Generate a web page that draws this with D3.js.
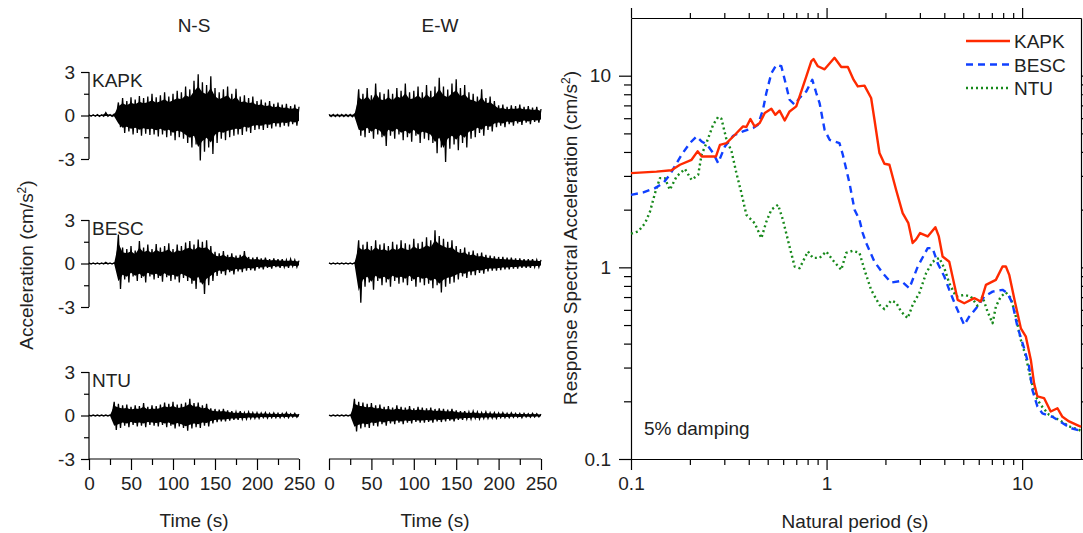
<!DOCTYPE html>
<html>
<head>
<meta charset="utf-8">
<script src="https://cdn.jsdelivr.net/npm/d3@7"></script>
<style>
  body { margin: 0; background: #fff; }
  svg { display: block; font-family: "Liberation Sans", Arial, sans-serif; }
  .axis text { font-size: 19px; fill: #222; font-family: "Liberation Sans", Arial, sans-serif; }
  .axis path, .axis line { stroke: #000; stroke-width: 1.2; }
  .lbl { font-size: 19px; fill: #222; }
</style>
</head>
<body>
<svg id="chart" width="1083" height="533"></svg>
<script>
// ---- time histories: peak envelope every 5 s (cm/s^2) ----
const traceStep = 5;
const stations = ['KAPK', 'BESC', 'NTU'];
const components = ['N-S', 'E-W'];

const kapkNsUp = [0.05,0.05,0.06,0.05,0.2,0.06,0.1,0.9,1.2,1.0,1.25,1.1,1.35,1.2,1.3,1.5,1.25,1.4,1.6,1.3,1.5,1.7,1.6,2.0,1.8,2.4,2.85,2.3,2.1,2.7,1.9,1.6,1.8,2.0,1.5,1.85,1.3,1.4,1.2,1.3,1.0,1.1,0.9,1.0,0.8,0.9,0.75,0.8,0.65,0.75,0.6];
const kapkNsLo = [-0.05,-0.05,-0.06,-0.05,-0.05,-0.06,-0.1,-0.8,-1.2,-1.1,-1.3,-1.2,-1.4,-1.25,-1.35,-1.3,-1.45,-1.3,-1.5,-1.4,-1.7,-1.5,-1.6,-1.9,-2.2,-2.0,-3.1,-2.5,-2.2,-2.65,-1.9,-1.6,-1.7,-1.5,-1.4,-1.3,-1.35,-1.1,-1.2,-1.0,-0.95,-1.0,-0.85,-0.9,-0.75,-0.8,-0.7,-0.75,-0.6,-0.7,-0.55];
const kapkEwUp = [0.08,0.08,0.08,0.08,0.08,0.08,0.1,1.8,1.5,1.9,1.4,2.2,1.6,1.5,1.8,1.5,1.9,1.7,2.2,1.6,1.7,2.0,1.6,2.1,1.7,2.0,2.6,2.0,1.8,2.2,2.5,1.9,2.1,1.6,1.5,1.3,1.8,1.2,1.3,1.0,0.7,0.75,0.6,0.7,0.65,0.75,0.6,0.65,0.55,0.6,0.45];
const kapkEwLo = [-0.08,-0.08,-0.08,-0.08,-0.08,-0.08,-0.1,-1.4,-1.5,-1.2,-1.6,-1.3,-1.5,-2.1,-1.4,-1.6,-1.3,-1.7,-1.5,-1.8,-1.4,-1.9,-1.6,-1.7,-1.9,-2.6,-2.2,-3.2,-2.3,-2.0,-2.4,-1.9,-2.2,-1.6,-1.5,-1.2,-1.4,-1.0,-1.1,-0.8,-0.7,-0.8,-0.6,-0.7,-0.55,-0.65,-0.5,-0.6,-0.45,-0.5,-0.4];
const bescNsUp = [0.04,0.04,0.04,0.04,0.08,0.04,0.05,2.0,1.1,1.0,1.2,0.9,1.55,1.1,1.3,1.0,1.35,1.1,1.2,1.4,1.0,1.3,1.2,1.45,1.55,1.3,1.65,1.5,1.6,1.2,0.8,0.7,0.85,0.6,0.7,0.55,0.6,0.85,0.45,0.4,0.45,0.35,0.4,0.3,0.35,0.3,0.3,0.25,0.3,0.25,0.2];
const bescNsLo = [-0.04,-0.04,-0.04,-0.04,-0.04,-0.04,-0.05,-1.75,-1.1,-1.3,-0.9,-1.2,-1.0,-1.3,-0.9,-1.1,-1.0,-1.25,-0.95,-1.2,-1.1,-1.3,-1.0,-1.2,-1.4,-1.75,-1.3,-2.1,-1.5,-1.2,-0.85,-0.7,-0.8,-0.6,-0.75,-0.55,-0.6,-0.5,-0.45,-0.5,-0.35,-0.4,-0.3,-0.35,-0.25,-0.3,-0.25,-0.3,-0.2,-0.25,-0.2];
const bescEwUp = [0.04,0.04,0.04,0.04,0.04,0.04,0.05,1.6,1.3,1.5,1.2,1.6,1.3,1.4,1.2,1.5,1.3,1.6,1.4,1.3,1.7,1.4,1.5,1.8,1.6,2.3,1.9,1.7,1.5,1.6,1.2,1.0,1.1,0.8,0.9,0.7,0.75,0.6,0.55,0.5,0.45,0.45,0.4,0.4,0.35,0.35,0.3,0.3,0.3,0.25,0.25];
const bescEwLo = [-0.04,-0.04,-0.04,-0.04,-0.04,-0.04,-0.05,-2.7,-1.6,-1.3,-1.8,-1.2,-1.5,-1.3,-1.6,-1.2,-1.4,-1.3,-1.5,-1.2,-1.6,-1.3,-1.5,-1.4,-1.7,-1.5,-2.0,-1.6,-1.4,-1.3,-1.1,-0.9,-1.0,-0.8,-0.8,-0.65,-0.7,-0.55,-0.5,-0.5,-0.45,-0.4,-0.4,-0.35,-0.35,-0.3,-0.3,-0.3,-0.25,-0.25,-0.2];
const ntuNsUp = [0.03,0.03,0.03,0.03,0.03,0.03,0.95,0.8,0.7,0.75,0.6,0.7,0.65,0.85,0.6,0.7,0.65,0.75,0.9,0.8,0.95,0.75,0.8,0.9,1.15,0.85,0.9,0.7,0.8,0.5,0.45,0.4,0.45,0.35,0.3,0.25,0.3,0.2,0.25,0.2,0.2,0.18,0.2,0.15,0.18,0.15,0.15,0.2,0.12,0.15,0.1];
const ntuNsLo = [-0.03,-0.03,-0.03,-0.03,-0.03,-0.03,-1.0,-0.85,-0.7,-0.8,-0.65,-0.75,-0.7,-0.8,-0.65,-0.7,-0.75,-0.65,-0.8,-0.7,-0.9,-0.75,-0.85,-1.05,-0.9,-0.8,-0.85,-0.7,-0.75,-0.55,-0.45,-0.4,-0.4,-0.35,-0.3,-0.3,-0.25,-0.25,-0.2,-0.2,-0.2,-0.15,-0.18,-0.15,-0.15,-0.15,-0.12,-0.15,-0.1,-0.12,-0.1];
const ntuEwUp = [0.03,0.03,0.03,0.03,0.03,0.03,1.15,0.95,0.9,0.8,0.85,0.7,0.75,0.6,0.65,0.55,0.7,0.6,0.55,0.65,0.5,0.6,0.55,0.5,0.55,0.45,0.5,0.45,0.4,0.45,0.35,0.3,0.3,0.25,0.3,0.25,0.2,0.25,0.2,0.2,0.18,0.2,0.15,0.18,0.15,0.15,0.15,0.12,0.15,0.12,0.1];
const ntuEwLo = [-0.03,-0.03,-0.03,-0.03,-0.03,-0.03,-1.1,-0.9,-0.8,-0.85,-0.7,-0.75,-0.6,-0.7,-0.55,-0.6,-0.5,-0.6,-0.5,-0.55,-0.45,-0.5,-0.5,-0.45,-0.5,-0.4,-0.45,-0.4,-0.35,-0.4,-0.3,-0.3,-0.25,-0.25,-0.2,-0.25,-0.2,-0.2,-0.18,-0.2,-0.15,-0.15,-0.15,-0.12,-0.12,-0.15,-0.1,-0.12,-0.1,-0.1,-0.08];

const traces = [
  [[kapkNsUp, kapkNsLo], [kapkEwUp, kapkEwLo]],
  [[bescNsUp, bescNsLo], [bescEwUp, bescEwLo]],
  [[ntuNsUp, ntuNsLo], [ntuEwUp, ntuEwLo]]
];

const timeTicks = [0, 50, 100, 150, 200, 250];
const timeMinor = [25, 75, 125, 175, 225];
const accTicks = [-3, 0, 3];
const accMinor = [-1.5, 1.5];

// ---- response spectra (5% damping) ----
const kapkT  = [0.1,0.135,0.161,0.178,0.204,0.219,0.23,0.272,0.285,0.308,0.34,0.374,0.389,0.408,0.429,0.455,0.483,0.522,0.547,0.575,0.611,0.647,0.7,0.728,0.788,0.836,0.858,0.903,0.977,1.098,1.189,1.285,1.374,1.444,1.563,1.69,1.758,1.864,1.976,2.096,2.267,2.45,2.62,2.755,2.87,3.006,3.29,3.6,3.75,3.92,4.24,4.68,5.06,5.69,6.15,6.53,7.34,7.94,8.26,8.59,9.18,9.85,10.45,11.08,11.51,11.97,12.94,14.0,15.16,16.07,17.38,19.5,20];
const kapkSa = [3.1,3.16,3.21,3.43,3.64,4.03,3.79,3.79,4.36,4.45,4.92,5.44,5.4,5.94,5.43,5.66,6.39,6.72,6.25,6.57,5.84,6.51,6.92,7.8,9.91,11.9,12.2,11.2,10.8,12.4,11.1,11.1,9.53,8.79,8.87,7.65,5.89,3.95,3.47,3.43,2.54,1.92,1.7,1.34,1.4,1.51,1.45,1.62,1.45,1.14,1.07,0.677,0.65,0.691,0.663,0.81,0.86,1.01,1.01,0.914,0.663,0.481,0.435,0.329,0.248,0.212,0.208,0.177,0.184,0.166,0.157,0.149,0.147];
const bescT  = [0.1,0.1156,0.1327,0.1462,0.158,0.1814,0.2,0.2163,0.2296,0.245,0.263,0.279,0.302,0.333,0.374,0.421,0.446,0.473,0.492,0.522,0.554,0.587,0.611,0.647,0.687,0.728,0.788,0.845,0.886,0.921,0.977,1.036,1.164,1.211,1.31,1.39,1.473,1.531,1.594,1.758,1.937,2.138,2.405,2.652,2.925,3.29,3.485,3.7,4.0,4.24,4.59,5.06,5.36,5.91,6.4,7.06,7.94,8.41,8.92,9.46,10.24,10.86,11.29,11.97,12.69,14.28,16.07,17.72,19.5,20];
const bescSa = [2.39,2.46,2.59,2.75,3.04,3.87,4.45,4.82,4.54,4.36,3.95,3.5,4.27,4.86,5.12,5.33,5.55,6.65,8.12,10.3,11.4,11.2,9.53,7.49,7.06,7.65,8.28,9.53,8.12,7.2,5.22,4.63,4.45,3.87,2.75,2.0,1.77,1.51,1.34,1.07,0.933,0.833,0.85,0.778,1.01,1.26,1.26,1.05,0.896,0.763,0.624,0.5,0.553,0.624,0.704,0.747,0.763,0.733,0.65,0.491,0.378,0.303,0.229,0.188,0.173,0.166,0.154,0.145,0.141,0.14];
const ntuT   = [0.1,0.109,0.118,0.125,0.1327,0.1406,0.149,0.158,0.171,0.1886,0.204,0.2205,0.2296,0.243,0.263,0.279,0.29,0.308,0.3265,0.346,0.367,0.389,0.429,0.464,0.492,0.522,0.565,0.598,0.647,0.687,0.728,0.803,0.851,0.921,0.996,1.077,1.189,1.26,1.36,1.473,1.563,1.69,1.864,1.976,2.138,2.267,2.405,2.6,2.755,2.98,3.23,3.485,3.77,4.0,4.24,4.59,5.06,5.47,5.91,6.27,6.65,7.06,7.34,7.78,8.26,8.76,9.29,9.85,10.45,11.08,11.74,12.46,13.74,15.45,17.38,19.5,20];
const ntuSa  = [1.5,1.54,1.7,1.95,2.44,2.92,2.92,2.54,2.98,3.26,2.86,3.04,3.87,4.45,5.55,6.09,5.96,4.63,4.03,3.1,2.44,1.88,1.7,1.42,1.73,2.0,2.12,1.77,1.28,1.01,0.99,1.21,1.12,1.12,1.21,1.09,0.97,1.19,1.22,1.19,0.97,0.763,0.637,0.605,0.671,0.655,0.588,0.543,0.637,0.733,0.933,1.07,1.12,0.99,0.827,0.704,0.718,0.704,0.63,0.704,0.588,0.511,0.624,0.704,0.739,0.691,0.553,0.418,0.342,0.259,0.212,0.191,0.17,0.16,0.148,0.142,0.14];

const spectra = [
  {name: 'KAPK', T: kapkT, Sa: kapkSa, color: '#ff2a00', dash: null, width: 2.4},
  {name: 'BESC', T: bescT, Sa: bescSa, color: '#1040ff', dash: '7,5', width: 2.4},
  {name: 'NTU',  T: ntuT,  Sa: ntuSa,  color: '#16881a', dash: '2,3', width: 2.4}
];

const periodTicks = [0.1, 1, 10];
const saTicks = [0.1, 1, 10];

const svg = d3.select('#chart');

// ================= left: acceleration time histories =================
const colX = [[89, 299], [329, 541]];
const rowTop = [72, 220, 372];
const rowH = 87;

const xTime = colX.map(r => d3.scaleLinear().domain([0, 250]).range(r));

rowTop.forEach((top, r) => {
  const yAcc = d3.scaleLinear().domain([-3, 3]).range([top + rowH, top]);

  traces[r].forEach((pair, c) => {
    const up = pair[0], lo = pair[1];
    const pts = up.map((u, i) => ({t: i * traceStep, u: u, l: lo[i]}));

    // solid core of the record
    const core = d3.area()
      .x(d => xTime[c](d.t))
      .y0(d => yAcc(d.l * 0.7))
      .y1(d => yAcc(d.u * 0.7));
    svg.append('path')
      .datum(pts)
      .attr('d', core)
      .attr('fill', '#000');

    // min/max trace: up at each sample, down half a step later
    const zig = [];
    pts.forEach(d => {
      zig.push([d.t, d.u]);
      if (d.t < 250) zig.push([d.t + traceStep / 2, d.l]);
    });
    svg.append('path')
      .datum(zig)
      .attr('d', d3.line().x(d => xTime[c](d[0])).y(d => yAcc(d[1])))
      .attr('fill', 'none')
      .attr('stroke', '#000')
      .attr('stroke-width', 1.3)
      .attr('stroke-linejoin', 'miter');
  });

  // y axis only on N-S column
  const ya = svg.append('g')
    .attr('class', 'axis')
    .attr('transform', 'translate(' + colX[0][0] + ',0)')
    .call(d3.axisLeft(yAcc).tickValues(accTicks).tickSize(8).tickPadding(6).tickFormat(d => String(d)));
  ya.select('.domain').attr('d', 'M0,' + yAcc(3) + 'V' + yAcc(-3));
  svg.append('g')
    .attr('class', 'axis')
    .attr('transform', 'translate(' + colX[0][0] + ',0)')
    .call(d3.axisLeft(yAcc).tickValues(accMinor).tickSize(5).tickFormat(''))
    .select('.domain').remove();

  svg.append('text')
    .attr('class', 'lbl')
    .attr('x', colX[0][0] + 3)
    .attr('y', top + 15)
    .text(stations[r]);
});

// time axes under the bottom row
const bottomY = rowTop[2] + rowH;
xTime.forEach((xs, c) => {
  const g = svg.append('g')
    .attr('class', 'axis')
    .attr('transform', 'translate(0,' + bottomY + ')')
    .call(d3.axisBottom(xs).tickValues(timeTicks).tickSize(11).tickPadding(7).tickSizeOuter(0));
  g.select('.domain').attr('d', 'M' + xs(0) + ',0H' + xs(250));
  svg.append('g')
    .attr('class', 'axis')
    .attr('transform', 'translate(0,' + bottomY + ')')
    .call(d3.axisBottom(xs).tickValues(timeMinor).tickSize(6).tickFormat(''))
    .select('.domain').remove();

  svg.append('text')
    .attr('class', 'lbl')
    .attr('x', (xs(0) + xs(250)) / 2)
    .attr('y', 527)
    .attr('text-anchor', 'middle')
    .text('Time (s)');

  svg.append('text')
    .attr('class', 'lbl')
    .attr('x', (xs(0) + xs(250)) / 2 + (c == 0 ? 0 : 5))
    .attr('y', 32)
    .attr('text-anchor', 'middle')
    .text(components[c]);
});

const accLabel = svg.append('text')
  .attr('class', 'lbl')
  .attr('transform', 'translate(33,265) rotate(-90)')
  .attr('text-anchor', 'middle');
accLabel.append('tspan').text('Acceleration (cm/s');
accLabel.append('tspan').attr('dy', -7).attr('font-size', 12).text('2');
accLabel.append('tspan').attr('dy', 7).text(')');

// ================= right: response spectra =================
const sp = {left: 631, right: 1081, top: 18, bottom: 459};
const xT = d3.scaleLog().domain([0.1, 20]).range([sp.left, sp.right]);
const ySa = d3.scaleLog().domain([0.1, 20]).range([sp.bottom, sp.top]);

const minorT = [];
[0.1, 1, 10].forEach(b => { for (let k = 2; k <= 9; k++) if (b * k < 20) minorT.push(b * k); });
const minorSa = minorT.slice();

// frame
svg.append('g').attr('class', 'axis')
  .attr('transform', 'translate(0,' + sp.bottom + ')')
  .call(d3.axisBottom(xT).tickValues(periodTicks).tickSize(11).tickPadding(7).tickSizeOuter(0).tickFormat(d => String(d)));
svg.append('g').attr('class', 'axis')
  .attr('transform', 'translate(0,' + sp.bottom + ')')
  .call(d3.axisBottom(xT).tickValues(minorT).tickSize(6).tickFormat(''))
  .select('.domain').remove();
svg.append('g').attr('class', 'axis')
  .attr('transform', 'translate(0,' + sp.top + ')')
  .call(d3.axisTop(xT).tickValues(periodTicks).tickSize(10).tickSizeOuter(0).tickFormat(''));
svg.append('g').attr('class', 'axis')
  .attr('transform', 'translate(0,' + sp.top + ')')
  .call(d3.axisTop(xT).tickValues(minorT).tickSize(5).tickFormat(''))
  .select('.domain').remove();

svg.append('g').attr('class', 'axis')
  .attr('transform', 'translate(' + sp.left + ',0)')
  .call(d3.axisLeft(ySa).tickValues(saTicks).tickSize(12).tickPadding(8).tickSizeOuter(0).tickFormat(d => String(d)));
svg.append('g').attr('class', 'axis')
  .attr('transform', 'translate(' + sp.left + ',0)')
  .call(d3.axisLeft(ySa).tickValues(minorSa).tickSize(7).tickFormat(''))
  .select('.domain').remove();
svg.append('g').attr('class', 'axis')
  .attr('transform', 'translate(' + sp.right + ',0)')
  .call(d3.axisRight(ySa).tickValues(saTicks).tickSize(10).tickSizeOuter(0).tickFormat(''));
svg.append('g').attr('class', 'axis')
  .attr('transform', 'translate(' + sp.right + ',0)')
  .call(d3.axisRight(ySa).tickValues(minorSa).tickSize(5).tickFormat(''))
  .select('.domain').remove();

// curves, NTU first so KAPK sits on top
const line = d3.line().x(d => xT(d[0])).y(d => ySa(d[1]));
spectra.slice().reverse().forEach(s => {
  svg.append('path')
    .datum(s.T.map((t, i) => [t, s.Sa[i]]))
    .attr('d', line)
    .attr('fill', 'none')
    .attr('stroke', s.color)
    .attr('stroke-width', s.width)
    .attr('stroke-dasharray', s.dash)
    .attr('stroke-linejoin', 'round');
});

// legend
spectra.forEach((s, i) => {
  const ly = 41 + i * 23.5;
  svg.append('line')
    .attr('x1', 966).attr('x2', 1010)
    .attr('y1', ly).attr('y2', ly)
    .attr('stroke', s.color)
    .attr('stroke-width', s.width)
    .attr('stroke-dasharray', s.dash);
  svg.append('text')
    .attr('class', 'lbl')
    .attr('x', 1014)
    .attr('y', ly + 7)
    .text(s.name);
});

svg.append('text')
  .attr('class', 'lbl')
  .attr('x', 644)
  .attr('y', 435)
  .text('5% damping');

svg.append('text')
  .attr('class', 'lbl')
  .attr('x', (sp.left + sp.right) / 2 - 1)
  .attr('y', 528)
  .attr('text-anchor', 'middle')
  .text('Natural period (s)');

const saLabel = svg.append('text')
  .attr('class', 'lbl')
  .attr('transform', 'translate(577,238) rotate(-90)')
  .attr('text-anchor', 'middle');
saLabel.append('tspan').text('Response Spectral Acceleration (cm/s');
saLabel.append('tspan').attr('dy', -7).attr('font-size', 12).text('2');
saLabel.append('tspan').attr('dy', 7).text(')');
</script>
</body>
</html>
